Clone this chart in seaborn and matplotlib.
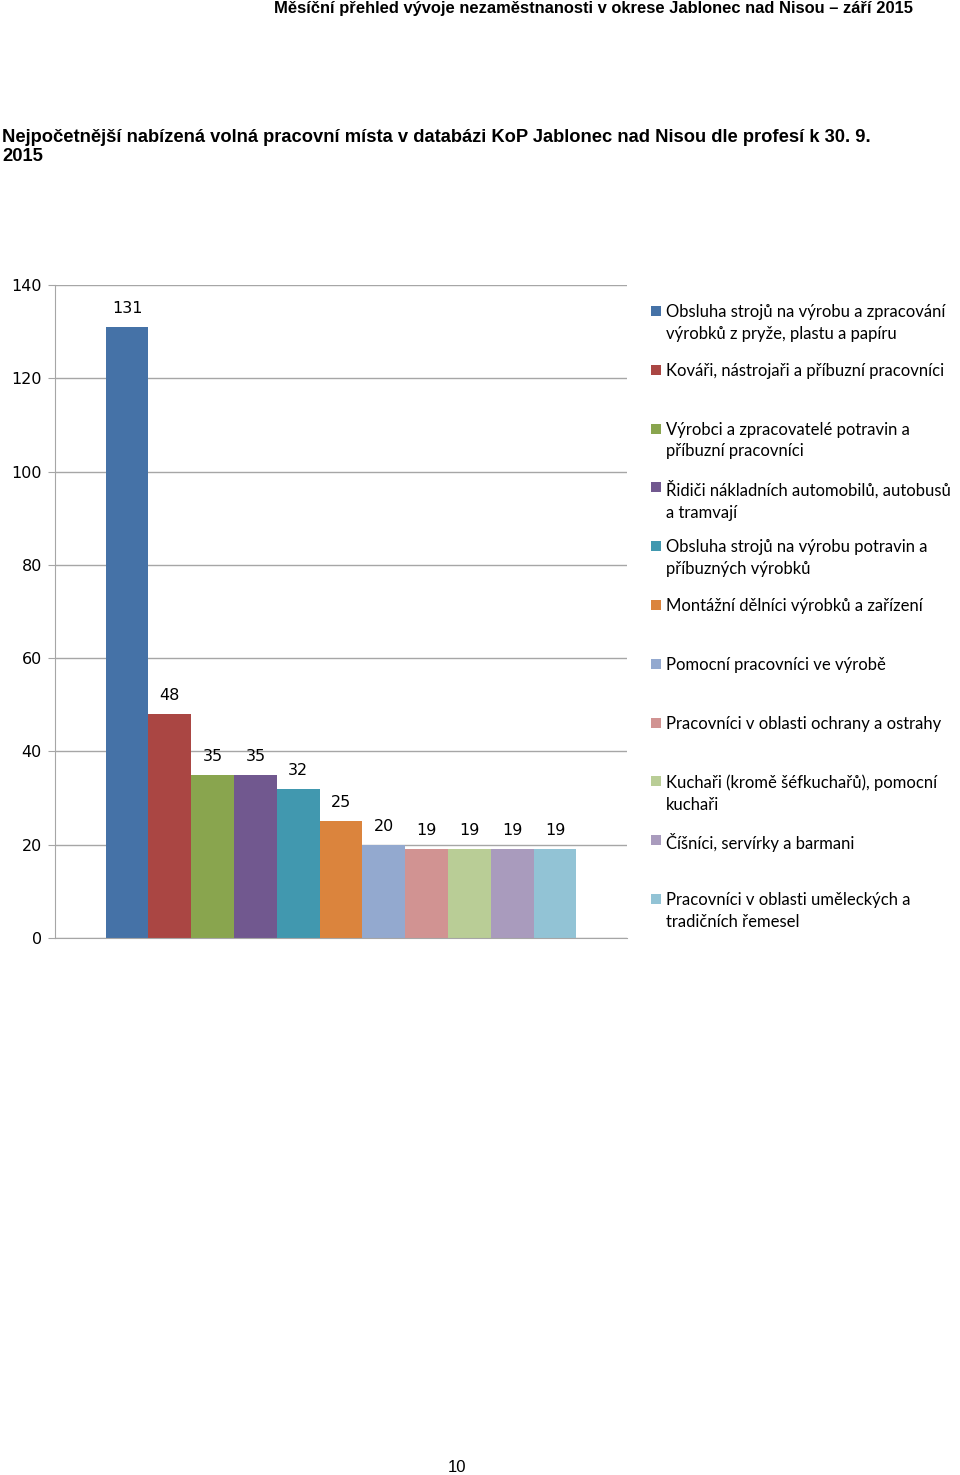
import pandas as pd
import seaborn as sns
import matplotlib.pyplot as plt
from matplotlib.patches import Rectangle

# data
profese = [
    "Obsluha strojů na výrobu a zpracování\nvýrobků z pryže, plastu a papíru",
    "Kováři, nástrojaři a příbuzní pracovníci",
    "Výrobci a zpracovatelé potravin a\npříbuzní pracovníci",
    "Řidiči nákladních automobilů, autobusů\na tramvají",
    "Obsluha strojů na výrobu potravin a\npříbuzných výrobků",
    "Montážní dělníci výrobků a zařízení",
    "Pomocní pracovníci ve výrobě",
    "Pracovníci v oblasti ochrany a ostrahy",
    "Kuchaři (kromě šéfkuchařů), pomocní\nkuchaři",
    "Číšníci, servírky a barmani",
    "Pracovníci v oblasti uměleckých a\ntradičních řemesel",
]
pocet = [131, 48, 35, 35, 32, 25, 20, 19, 19, 19, 19]
barvy = ["#4572A7", "#AA4643", "#89A54E", "#71588F", "#4198AF", "#DB843D",
         "#93A9CF", "#D19392", "#B9CD96", "#A99BBD", "#92C3D5"]
y_ticks = [0, 20, 40, 60, 80, 100, 120, 140]

df = pd.DataFrame({"kat": [""] * len(pocet), "profese": profese, "pocet": pocet})

sns.set_style("white")
plt.rcParams["font.family"] = ["DejaVu Sans"]
plt.rcParams["text.color"] = "black"
plt.rcParams["ytick.color"] = "black"

W, H = 960, 1475
fig = plt.figure(figsize=(W / 100, H / 100), dpi=100)

def fx(px):
    return px / W

def fy(py):
    return 1 - py / H

# chart area
ax = fig.add_axes([fx(55), fy(938), fx(627) - fx(55), fy(285) - fy(938)])
sns.barplot(data=df, x="kat", y="pocet", hue="profese", hue_order=profese,
            palette=barvy, saturation=1, width=0.823, legend=False,
            linewidth=0, ax=ax)
ax.set_xlim(-0.5, 0.5)
ax.set_ylim(0, 140)
ax.set_yticks(y_ticks)
ax.set_xticks([])
ax.set_xlabel("")
ax.set_ylabel("")
ax.yaxis.grid(True, color="#a6a6a6", lw=1)
ax.set_axisbelow(True)
for s in ["top", "right"]:
    ax.spines[s].set_visible(False)
for s in ["left", "bottom"]:
    ax.spines[s].set_color("#a6a6a6")
ax.tick_params(axis="y", left=True, length=5, color="#a6a6a6", labelsize=11.5,
               pad=4.5, labelcolor="black")

for c in ax.containers:
    ax.bar_label(c, padding=8, fontsize=11.5, color="black")

# legend drawn by hand to keep Excel-like even spacing
for i, (lab, col) in enumerate(zip(profese, barvy)):
    yc = 311 + i * 58.8
    fig.patches.append(Rectangle((fx(651), fy(yc + 5)), fx(10), fy(yc - 5) - fy(yc + 5),
                                 facecolor=col, edgecolor="none",
                                 transform=fig.transFigure, figure=fig))
    fig.text(fx(666), fy(yc - 7), lab, fontsize=12, family=["Lato", "DejaVu Sans"],
             va="top", ha="left", linespacing=1.45)

# page texts
hf = ["Liberation Sans Narrow", "Liberation Sans", "DejaVu Sans"]
fig.text(fx(913), fy(8), "Měsíční přehled vývoje nezaměstnanosti v okrese Jablonec nad Nisou – září 2015",
         ha="right", va="center", fontsize=11.9, fontweight="bold", family=hf)
fig.text(fx(2), fy(129),
         "Nejpočetnější nabízená volná pracovní místa v databázi KoP Jablonec nad Nisou dle profesí k 30. 9.\n2015",
         ha="left", va="top", fontsize=13.2, fontweight="bold", family=hf, linespacing=1.15)
fig.text(fx(457), fy(1467), "10", ha="center", va="center", fontsize=12, family=["Liberation Sans"])

fig.savefig("out.png", dpi=100)
